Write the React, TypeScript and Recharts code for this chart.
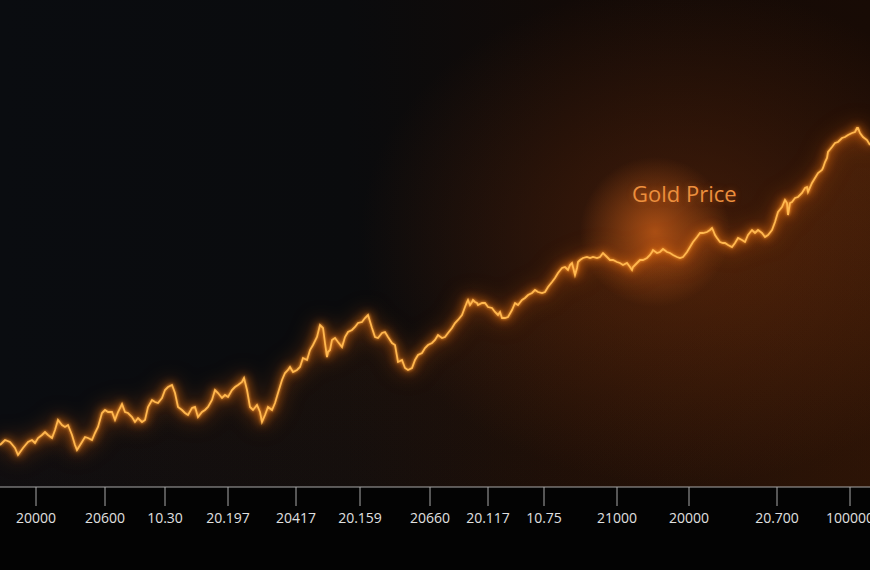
import React from 'react';
import { ComposedChart, Area, Line, XAxis, YAxis } from 'recharts';

// trading day (horizontal position) and price level
const day = [
  0, 5, 10, 15, 18, 23, 28, 32, 35, 38, 42, 45, 48, 52, 55, 58, 62, 65, 68, 72, 75, 77, 82, 85, 88, 92, 95, 98,
  102, 105, 108, 112, 115, 118, 122, 125, 128, 132, 135, 138, 142,
  145, 148, 152, 155, 158, 162, 165, 168, 172, 175, 178, 182, 185, 188, 192, 195, 198, 202, 205, 208, 212, 215,
  218, 222, 225, 228, 232, 235, 238, 242, 244, 247, 250, 253, 257, 260, 262, 265, 268, 272, 275, 278, 282, 285, 288,
  290, 293, 297, 300, 303, 307, 310, 313, 317, 320, 323, 325, 327, 328, 330, 332, 335, 338, 342, 345, 348, 352,
  355, 358, 362, 365, 368, 372, 375, 378, 382, 385, 388, 392, 395, 398, 402, 405, 408, 412, 415, 418, 422, 425, 428, 432,
  435, 438, 442, 445, 448, 452, 455, 458, 462, 465, 467, 468, 470, 472, 473, 475, 477, 478, 482, 485, 488, 492, 495,
  498, 500, 502, 505, 508, 512, 515, 518, 522, 525, 528, 532, 535, 538, 542, 545, 548, 552, 555, 558, 562, 565, 568,
  570, 572, 573, 575, 577, 578,
  580, 583, 587, 590, 593, 597, 600, 603, 607, 610, 613, 617, 620, 623, 627, 630, 632, 633, 637, 640, 643, 647, 650,
  652, 653, 657, 660, 663, 667, 670, 673, 677, 680, 683, 687, 690, 693, 697, 700, 703, 707, 710, 712, 713, 715, 717, 720, 723,
  725, 728, 732, 735, 738, 742, 745, 748, 752, 755, 758, 762, 765, 768, 772, 775, 778, 782, 785, 787, 788, 790, 792,
  795, 798, 802, 805, 807, 808, 812, 815, 818, 822, 823, 825, 827, 828, 832, 835, 838, 842, 845, 848, 852, 855, 857,
  858, 860, 863, 867, 870,
];

const price = [
  42, 47, 45, 39, 32, 39, 45, 47, 44, 49, 52, 55, 52, 49, 57, 67, 62, 60, 62, 52, 42, 37, 45, 50, 49, 47, 54, 60,
  74, 77, 75, 75, 67, 75, 83, 75, 74, 70, 65, 69, 65,
  67, 80, 87, 85, 84, 89, 97, 100, 102, 94, 80, 77, 74, 72, 79, 80, 70, 75, 77, 80, 87, 97,
  94, 89, 92, 90, 97, 100, 102, 105, 109, 97, 80, 77, 82, 75, 65, 72, 80, 77, 84, 94, 107, 114, 117,
  120, 115, 117, 120, 129, 127, 137, 142, 150, 162, 159, 144, 130, 135, 137, 147, 149, 145, 140, 150, 155, 157,
  160, 164, 165, 169, 172, 159, 150, 149, 154, 155, 150, 144, 142, 125, 127, 119, 117, 119, 127, 132, 134, 139, 142, 144,
  147, 152, 149, 150, 154, 159, 164, 167, 172, 180, 185, 187, 182, 185, 187, 185, 184, 182, 184, 184, 180, 179, 175,
  172, 175, 169, 169, 170, 177, 184, 182, 187, 189, 192, 194, 197, 195, 194, 195, 200, 205, 209, 214, 219, 220, 217,
  222, 224, 220, 212, 219, 225,
  227, 229, 230, 229, 230, 229, 230, 234, 230, 227, 227, 225, 224, 222, 224, 220, 217, 220, 224, 227, 227, 229, 232,
  235, 237, 234, 235, 238, 235, 234, 232, 230, 229, 230, 235, 240, 245, 250, 254, 254, 255, 257, 259, 257, 252, 249, 245, 244,
  244, 242, 240, 244, 249, 247, 245, 252, 257, 254, 257, 254, 250, 252, 257, 265, 275, 280, 287, 284, 272, 284, 285,
  289, 290, 294, 299, 300, 295, 304, 309, 314, 317, 319, 325, 329, 335, 340, 344, 345, 349, 350, 352, 354, 355, 359,
  359, 354, 350, 347, 342,
];

const tickPos = [36, 105, 165, 228, 296, 360, 430, 488, 544, 617, 689, 777, 850];
const tickLabels = [
  '20000', '20600', '10.30', '20.197', '20417', '20.159', '20660',
  '20.117', '10.75', '21000', '20000', '20.700', '100000',
];

const data = day.map((d, i) => ({ day: d, price: price[i] }));

const css = `
.gold-line .recharts-line-curve {
  filter: drop-shadow(0 0 1.5px #ffa030) drop-shadow(0 0 5px #ff7a10) drop-shadow(0 0 10px rgba(255,110,10,0.55));
}
`;

export default function App() {
  return (
    <div
      style={{
        position: 'absolute',
        left: 0,
        top: 0,
        width: 870,
        height: 570,
        background: '#030303',
        overflow: 'hidden',
        fontFamily: '"Open Sans", sans-serif',
      }}
    >
      <style>{css}</style>
      <div
        style={{
          position: 'absolute',
          left: 0,
          top: 0,
          width: 870,
          height: 487,
          background: [
            'radial-gradient(circle 75px at 655px 232px, rgba(215,100,25,0.7), rgba(215,100,25,0))',
            'radial-gradient(ellipse 320px 250px at 680px 235px, rgba(110,45,12,0.5), rgba(110,45,12,0))',
            'linear-gradient(90deg, #0a0c10 0%, #0a0b0d 40%, #120a07 65%, #180b05 100%)',
          ].join(','),
        }}
      />
      <div
        style={{
          position: 'absolute',
          left: 632,
          top: 178,
          fontSize: 22,
          lineHeight: '30px',
          color: '#ec8f3d',
          textShadow: '0 0 6px rgba(255,120,30,0.35)',
          whiteSpace: 'nowrap',
        }}
      >
        Gold Price
      </div>
      <div style={{ position: 'absolute', left: 0, top: 0 }}>
        <ComposedChart width={870} height={570} data={data} margin={{ top: 0, right: 0, bottom: 0, left: 0 }}>
          <defs>
            <linearGradient id="fillH" x1="0" y1="0" x2="1" y2="0">
              <stop offset="0%" stopColor="#7a340a" stopOpacity={0.08} />
              <stop offset="55%" stopColor="#7a340a" stopOpacity={0.18} />
              <stop offset="100%" stopColor="#8a3c0c" stopOpacity={0.3} />
            </linearGradient>
            <linearGradient id="fillV" x1="0" y1="0" x2="0" y2="1">
              <stop offset="0%" stopColor="#a04a10" stopOpacity={0.28} />
              <stop offset="60%" stopColor="#6a2e08" stopOpacity={0.12} />
              <stop offset="100%" stopColor="#2a1204" stopOpacity={0.04} />
            </linearGradient>
          </defs>
          <XAxis
            dataKey="day"
            type="number"
            domain={[0, 870]}
            ticks={tickPos}
            interval={0}
            tickFormatter={(v: number) => tickLabels[tickPos.indexOf(v)]}
            height={83}
            tickSize={19}
            tickMargin={7}
            axisLine={{ stroke: '#a9a9a9', strokeWidth: 1 }}
            tickLine={{ stroke: '#a9a9a9', strokeWidth: 1 }}
            tick={{ fill: '#e0e0e0', fontSize: 14, fontFamily: '"Open Sans", sans-serif' }}
          />
          <YAxis hide domain={[0, 487]} />
          <Area
            type="linear"
            dataKey="price"
            stroke="none"
            fill="url(#fillH)"
            dot={false}
            activeDot={false}
            isAnimationActive={false}
          />
          <Area
            type="linear"
            dataKey="price"
            stroke="none"
            fill="url(#fillV)"
            dot={false}
            activeDot={false}
            isAnimationActive={false}
          />
          <Line
            className="gold-line"
            type="linear"
            dataKey="price"
            stroke="#ffb850"
            strokeWidth={1.8}
            dot={false}
            activeDot={false}
            isAnimationActive={false}
          />
        </ComposedChart>
      </div>
    </div>
  );
}
